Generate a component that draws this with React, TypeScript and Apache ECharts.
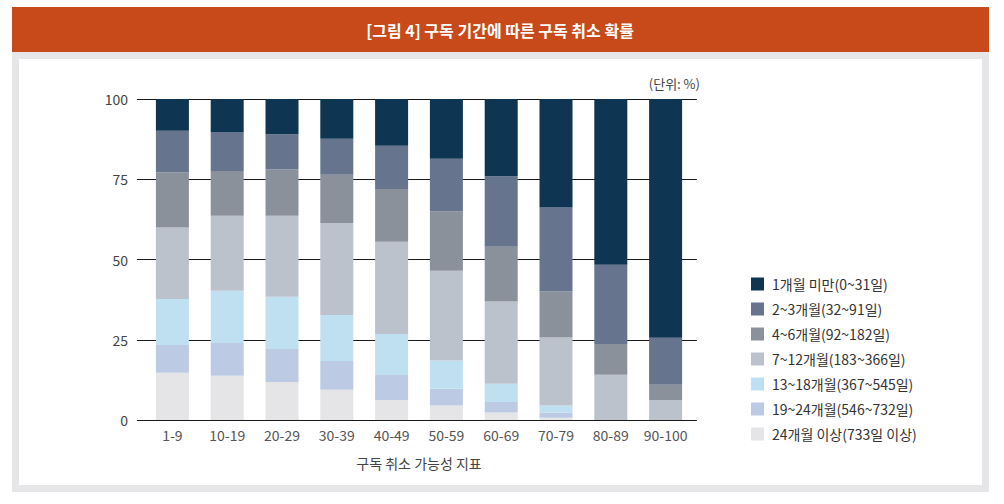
import React, { useEffect, useRef } from "react";
import * as echarts from "echarts";

const categories = ["1-9", "10-19", "20-29", "30-39", "40-49", "50-59", "60-69", "70-79", "80-89", "90-100"];

// stacked bottom -> top
const s24plus = [14.7, 13.8, 11.8, 9.4, 6.2, 4.5, 2.3, 0.7, 0, 0];
const s19to24 = [8.7, 10.2, 10.3, 9.0, 7.8, 5.2, 3.3, 1.6, 0, 0];
const s13to18 = [14.3, 16.3, 16.3, 14.3, 12.8, 8.8, 5.7, 2.2, 0, 0];
const s7to12 = [22.3, 23.3, 25.2, 28.7, 28.7, 28.0, 25.6, 21.2, 14.1, 6.2];
const s4to6 = [17.1, 14.0, 14.4, 15.0, 16.5, 18.5, 17.1, 14.3, 9.6, 4.8];
const s2to3 = [13.0, 12.0, 11.0, 11.2, 13.4, 16.4, 21.9, 26.2, 24.7, 14.6];
const s1 = [9.9, 10.4, 11.0, 12.4, 14.6, 18.6, 24.1, 33.8, 51.6, 74.4];

const seriesNames = [
  "24개월 이상(733일 이상)",
  "19~24개월(546~732일)",
  "13~18개월(367~545일)",
  "7~12개월(183~366일)",
  "4~6개월(92~182일)",
  "2~3개월(32~91일)",
  "1개월 미만(0~31일)",
];
const seriesData = [s24plus, s19to24, s13to18, s7to12, s4to6, s2to3, s1];
const seriesColors = ["#e5e5e8", "#bccbe3", "#bfe0f0", "#bcc2cc", "#8b919b", "#66758d", "#0e3552"];

const yTicks = [0, 25, 50, 75, 100];

const FONT = "'Noto Sans CJK KR', 'Noto Sans', sans-serif";

export default function App() {
  const ref = useRef<HTMLDivElement>(null);
  useEffect(() => {
    if (!ref.current) return;
    const chart = echarts.init(ref.current, null, { renderer: "svg" });
    chart.setOption({
      animation: false,
      backgroundColor: "#ffffff",
      textStyle: { fontFamily: FONT },
      graphic: [
        { type: "rect", z: -10, shape: { x: 12, y: 7, width: 977, height: 45 }, style: { fill: "#c84a1b" } },
        { type: "rect", z: -10, shape: { x: 12, y: 52, width: 977, height: 440 }, style: { fill: "#e6e6e8" } },
        { type: "rect", z: -9, shape: { x: 19, y: 59, width: 963, height: 426 }, style: { fill: "#ffffff" } },
        {
          type: "text",
          x: 500,
          y: 30,
          style: {
            text: "[그림 4] 구독 기간에 따른 구독 취소 확률",
            fill: "#ffffff",
            font: `bold 16px ${FONT}`,
            align: "center",
            verticalAlign: "middle",
          },
        },
        {
          type: "text",
          x: 700,
          y: 83,
          style: {
            text: "(단위: %)",
            fill: "#444444",
            font: `13px ${FONT}`,
            align: "right",
            verticalAlign: "middle",
          },
        },
      ],
      grid: [
        { left: 137, right: 307, top: 99, bottom: 84 },
        { left: 145, right: 311, top: 99, bottom: 84 },
      ],
      xAxis: [
        { type: "value", gridIndex: 0, show: false, min: 0, max: 1 },
        {
          type: "category",
          gridIndex: 1,
          data: categories,
          axisLine: { show: false },
          axisTick: { show: false },
          axisLabel: { color: "#555555", fontSize: 14, margin: 8, interval: 0, fontFamily: FONT },
          name: "구독 취소 가능성 지표",
          nameLocation: "middle",
          nameGap: 36,
          nameTextStyle: { color: "#444444", fontSize: 14, fontFamily: FONT },
        },
      ],
      yAxis: [
        {
          type: "value",
          gridIndex: 0,
          min: yTicks[0],
          max: yTicks[yTicks.length - 1],
          interval: 25,
          axisLine: { show: false },
          axisTick: { show: false },
          axisLabel: { color: "#444444", fontSize: 14, margin: 9, fontFamily: FONT },
          splitLine: { show: true, lineStyle: { color: "#1a1a1a", width: 1 } },
        },
        {
          type: "value",
          gridIndex: 1,
          min: 0,
          max: 100,
          show: false,
          splitLine: { show: false },
        },
      ],
      legend: {
        orient: "vertical",
        left: 751,
        top: 277,
        padding: 0,
        itemWidth: 13,
        itemHeight: 13,
        itemGap: 11,
        icon: "rect",
        data: [...seriesNames].reverse(),
        textStyle: { color: "#333333", fontSize: 14, lineHeight: 14, fontFamily: FONT, padding: [0, 0, 0, 3] },
      },
      series: seriesNames.map((name, i) => ({
        name,
        type: "bar",
        stack: "total",
        xAxisIndex: 1,
        yAxisIndex: 1,
        barWidth: 33,
        data: seriesData[i],
        itemStyle: { color: seriesColors[i] },
        emphasis: { disabled: true },
      })),
    });
    return () => chart.dispose();
  }, []);
  return (
    <div
      ref={ref}
      style={{ position: "fixed", left: 0, top: 0, width: 1004, height: 504 }}
    />
  );
}
